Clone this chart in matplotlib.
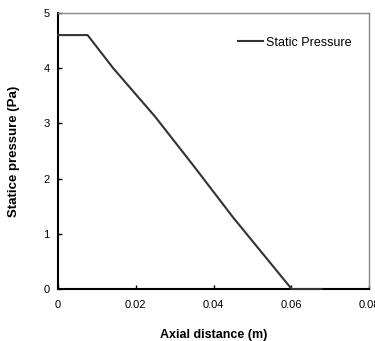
import matplotlib
matplotlib.use("Agg")
import matplotlib.pyplot as plt

# axial distance (m) vs static pressure (Pa)
axial_x = [0.0, 0.0076, 0.0142, 0.025, 0.035, 0.045, 0.0601, 0.0678]
pressure = [4.6, 4.6, 4.0, 3.12, 2.22, 1.30, 0.0, 0.0]

x_ticks = [0, 0.02, 0.04, 0.06, 0.08]
x_tick_labels = ["0", "0.02", "0.04", "0.06", "0.08"]
y_ticks = [0, 1, 2, 3, 4, 5]

plt.rcParams["font.family"] = ["Liberation Sans", "DejaVu Sans"]

fig = plt.figure(figsize=(3.75, 3.41), dpi=100)
ax = fig.add_axes([0.1547, 0.1525, 0.8293, 0.8094])

ax.plot(axial_x, pressure, color="#333333", lw=1.5, label="Static Pressure", zorder=3,
        clip_on=False)

ax.set_xlim(0, 0.08)
ax.set_ylim(0, 5)
ax.set_xticks(x_ticks)
ax.set_xticklabels(x_tick_labels)
ax.set_yticks(y_ticks)
ax.tick_params(direction="in", length=3, width=1, labelsize=8, pad=8)
ax.tick_params(axis="y", pad=6)

for s in ["left", "bottom"]:
    ax.spines[s].set_color("black")
    ax.spines[s].set_linewidth(1.5)
for s in ["top", "right"]:
    ax.spines[s].set_color("#888888")
    ax.spines[s].set_linewidth(1.0)

ax.set_xlabel("Axial distance (m)", fontsize=9, fontweight="bold", labelpad=13.5)
ax.set_ylabel("Statice pressure (Pa)", fontsize=9.5, fontweight="bold", labelpad=17)

ax.legend(loc="upper right", frameon=False, fontsize=9, handlelength=2.0,
          handletextpad=0.25, bbox_to_anchor=(0.98, 0.955))

fig.savefig("out.png", dpi=100)
